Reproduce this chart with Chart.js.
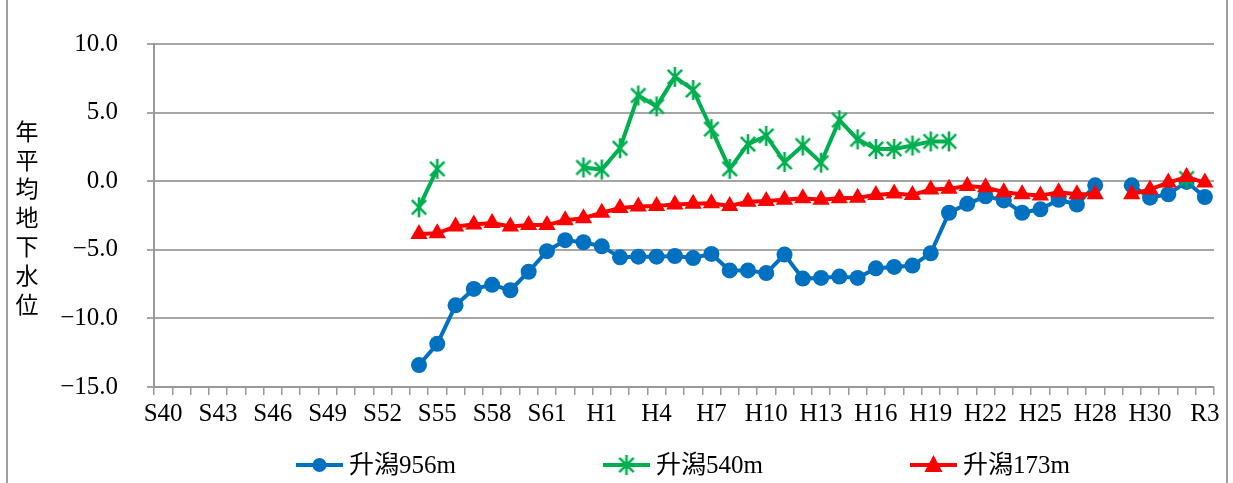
<!DOCTYPE html>
<html><head><meta charset="utf-8">
<script src="https://cdn.jsdelivr.net/npm/chart.js@4.4.0/dist/chart.umd.min.js"></script>
<style>
html,body{margin:0;padding:0;background:#fff;overflow:hidden}
#wrap{position:absolute;left:0;top:0;width:1233px;height:483px}
#frame{position:absolute;left:6px;top:-3px;width:1218px;height:486px;border:2px solid #a0a0a0;pointer-events:none}
</style></head><body>
<div id="wrap"><canvas id="c" width="1233" height="483"></canvas></div><div id="frame"></div>
<script>
const categories = [
  "S40","S41","S42","S43","S44","S45","S46","S47","S48","S49","S50","S51","S52","S53","S54","S55","S56","S57","S58","S59","S60","S61","S62","S63",
  "H1","H2","H3","H4","H5","H6","H7","H8","H9","H10","H11","H12","H13","H14","H15","H16","H17","H18","H19","H20","H21","H22","H23","H24","H25","H26","H27","H28",
  "","H29","H30","R1","R2","R3"
];
const seriesNames = ["升潟956m","升潟540m","升潟173m"];
const level956 = [
  null,null,null,null,null,null,null,null,null,null,null,null,null,null,
  -13.4,-11.85,-9.05,-7.85,-7.55,-7.95,-6.6,-5.1,-4.3,-4.45,
  -4.75,-5.55,-5.5,-5.5,-5.45,-5.6,-5.3,-6.5,-6.5,-6.7,-5.35,-7.1,-7.05,-6.95,-7.05,-6.35,-6.25,-6.15,-5.25,-2.3,-1.65,-1.1,-1.4,-2.3,-2.05,-1.35,-1.7,-0.3,
  null,-0.3,-1.2,-0.95,-0.05,-1.15
];
const level540 = [
  null,null,null,null,null,null,null,null,null,null,null,null,null,null,
  -1.9,0.9,null,null,null,null,null,null,null,1.0,
  0.85,2.4,6.25,5.45,7.6,6.65,3.8,0.9,2.7,3.3,1.4,2.6,1.35,4.45,3.05,2.35,2.35,2.6,2.9,2.9,null,null,null,null,null,null,null,null,
  null,null,null,null,0.2,null
];
const level173 = [
  null,null,null,null,null,null,null,null,null,null,null,null,null,null,
  -3.85,-3.8,-3.3,-3.15,-3.05,-3.3,-3.2,-3.2,-2.85,-2.7,
  -2.3,-1.95,-1.85,-1.8,-1.7,-1.65,-1.6,-1.8,-1.5,-1.45,-1.35,-1.25,-1.35,-1.25,-1.2,-1.0,-0.9,-1.0,-0.6,-0.55,-0.35,-0.45,-0.8,-0.95,-1.05,-0.8,-0.95,-0.95,
  null,-0.95,-0.6,-0.1,0.3,-0.1
];
const yTitle = "年平均地下水位";

const BLUE = "#0070C0", GREEN = "#00B050", RED = "#FF0000";
const FONT = '"Liberation Serif", "Noto Sans CJK JP", serif';

function asterisk(size, color, lw) {
  const c = document.createElement('canvas');
  c.width = c.height = size;
  const x = c.getContext('2d');
  x.strokeStyle = color; x.lineWidth = lw; x.lineCap = 'butt';
  const m = size / 2, r = size / 2 - 1;
  const d = r * 0.72;
  x.beginPath();
  x.moveTo(m - d, m - d); x.lineTo(m + d, m + d);
  x.moveTo(m + d, m - d); x.lineTo(m - d, m + d);
  x.moveTo(m, m - r); x.lineTo(m, m + r);
  x.stroke();
  return c;
}
const star = asterisk(22, GREEN, 2.6);

const decor = {
  id: 'decor',
  afterDraw(chart) {
    const ctx = chart.ctx;
    ctx.save();
    // vertical y title
    ctx.fillStyle = '#000';
    ctx.font = '23px "Noto Sans CJK JP"';
    ctx.textAlign = 'center';
    ctx.textBaseline = 'middle';
    [...yTitle].forEach((ch, k) => ctx.fillText(ch, 27, 131 + k * 28.8));
    // legend
    const y = 465;
    const items = [
      {x: 296, color: BLUE, kind: 'circle'},
      {x: 603, color: GREEN, kind: 'star'},
      {x: 910, color: RED, kind: 'triangle'}
    ];
    ctx.font = '25px ' + FONT;
    ctx.textAlign = 'left';
    items.forEach((it, i) => {
      ctx.strokeStyle = it.color; ctx.lineWidth = 4;
      ctx.beginPath(); ctx.moveTo(it.x, y); ctx.lineTo(it.x + 47, y); ctx.stroke();
      const cx = it.x + 23.5;
      ctx.fillStyle = it.color;
      if (it.kind === 'circle') { ctx.beginPath(); ctx.arc(cx, y, 7, 0, Math.PI * 2); ctx.fill(); }
      else if (it.kind === 'star') { ctx.drawImage(star, cx - 11, y - 11); }
      else { ctx.beginPath(); ctx.moveTo(cx, y - 10); ctx.lineTo(cx + 9, y + 7); ctx.lineTo(cx - 9, y + 7); ctx.closePath(); ctx.fill(); }
      ctx.fillStyle = '#000';
      ctx.fillText(seriesNames[i], it.x + 53, y + 1);
    });
    ctx.restore();
  }
};

new Chart(document.getElementById('c'), {
  type: 'line',
  data: {
    labels: categories,
    datasets: [
      {label: seriesNames[0], data: level956, borderColor: BLUE, backgroundColor: BLUE, borderWidth: 4,
       pointStyle: 'circle', pointRadius: 8, pointBorderWidth: 0, pointBackgroundColor: BLUE, spanGaps: false, order: 3, tension: 0},
      {label: seriesNames[1], data: level540, borderColor: GREEN, backgroundColor: GREEN, borderWidth: 4,
       pointStyle: star, pointRadius: 10, spanGaps: false, order: 2, tension: 0},
      {label: seriesNames[2], data: level173, borderColor: RED, backgroundColor: RED, borderWidth: 4,
       pointStyle: 'triangle', pointRadius: 10, pointBorderWidth: 0, pointBackgroundColor: RED, spanGaps: false, order: 1, tension: 0}
    ]
  },
  options: {
    responsive: false,
    animation: false,
    layout: {padding: {left: 0, right: 19, top: 44, bottom: 0}},
    plugins: {legend: {display: false}, tooltip: {enabled: false}},
    scales: {
      x: {
        type: 'category',
        offset: true,
        afterFit(s) { s.height = 96; },
        grid: {display: true, drawOnChartArea: false, drawTicks: true, tickLength: 8, offset: true, color: '#999', lineWidth: 1.5},
        border: {display: true, color: '#999', width: 2},
        ticks: {
          autoSkip: false, maxRotation: 0, minRotation: 0, padding: 4, color: '#000',
          font: {family: FONT, size: 25},
          callback: function(v, i) { return i % 3 === 0 ? this.getLabelForValue(v) : ''; }
        }
      },
      y: {
        min: -15, max: 10,
        afterFit(s) { s.width = 154; },
        grid: {color: '#a6a6a6', lineWidth: 2, tickLength: 7, drawTicks: true},
        border: {display: true, color: '#999', width: 2},
        ticks: {
          stepSize: 5, padding: 29, color: '#000',
          font: {family: FONT, size: 25},
          callback: v => (v < 0 ? '\u2212' : '') + Math.abs(v).toFixed(1)
        }
      }
    }
  },
  plugins: [decor]
});
</script>
</body></html>
